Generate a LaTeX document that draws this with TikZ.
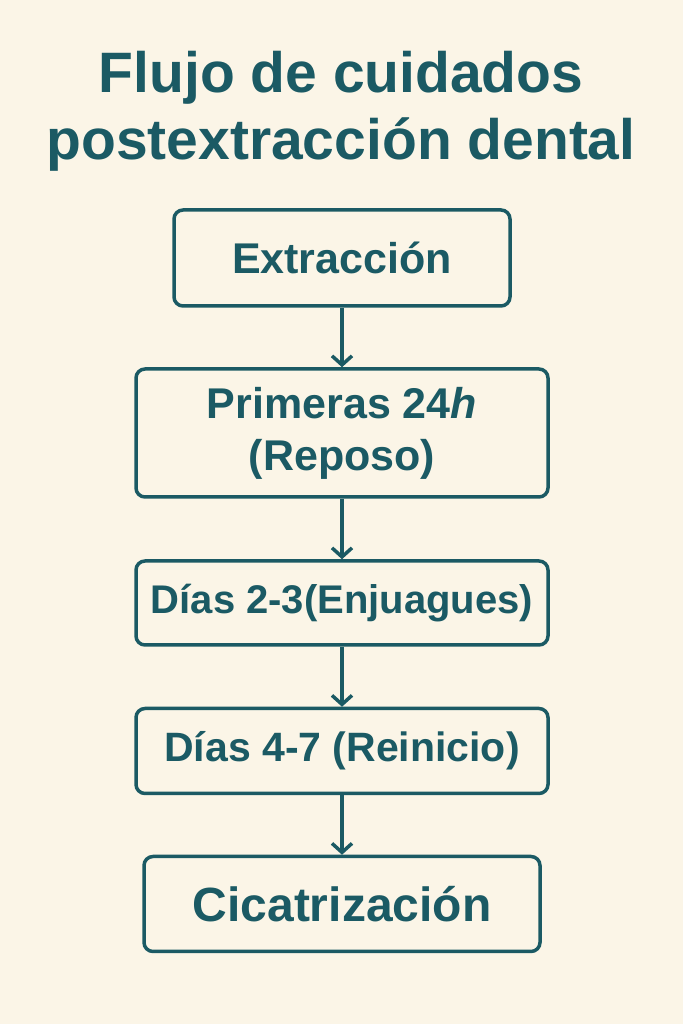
\documentclass[tikz,border=0pt]{standalone}
\usepackage{fontspec}
\setmainfont{Liberation Sans}
\usetikzlibrary{arrows.meta}
\definecolor{teal}{HTML}{1B5A64}
\definecolor{bg}{HTML}{FBF5E7}
\begin{document}
\begin{tikzpicture}[x=1pt,y=1pt,
  box/.style={draw=teal,line width=3.5pt,rounded corners=9pt,text=teal,font=\fontsize{43}{52}\selectfont\bfseries,align=center,inner sep=0pt},
  arr/.style={draw=teal,line width=3.5pt,-{Straight Barb[length=9pt,width=20pt,line width=3.5pt]}}]
\fill[bg] (0,0) rectangle (683,1024);
\useasboundingbox (0,0) rectangle (683,1024);
\node[text=teal,font=\fontsize{57}{67}\selectfont\bfseries,align=center] (t) at (341,913) {Flujo de cuidados\\postextracción dental};
\node[box,minimum width=336pt,minimum height=96pt] (a) at (342,766) {Extracción};
\node[box,minimum width=412pt,minimum height=128pt] (b) at (342,591) {Primeras 24\textit{h}\\(Reposo)};
\node[box,minimum width=412pt,minimum height=84pt,font=\fontsize{40}{48}\selectfont\bfseries] (c) at (342,421) {Días 2-3(Enjuagues)};
\node[box,minimum width=412pt,minimum height=85pt,font=\fontsize{41}{48}\selectfont\bfseries] (d) at (342,273) {Días 4-7 (Reinicio)};
\node[box,minimum width=396pt,minimum height=95pt,font=\fontsize{48}{56}\selectfont\bfseries] (e) at (342,120) {Cicatrización};
\draw[arr] (a) -- (b);
\draw[arr] (b) -- (c);
\draw[arr] (c) -- (d);
\draw[arr] (d) -- (e);
\end{tikzpicture}
\end{document}
